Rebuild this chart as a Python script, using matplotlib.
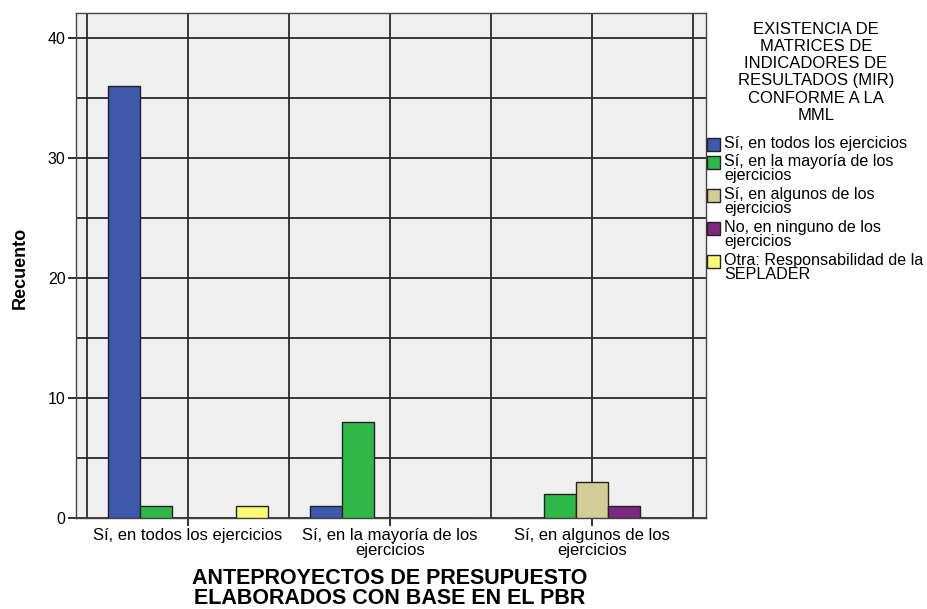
import matplotlib
matplotlib.use("Agg")
import matplotlib.pyplot as plt
from matplotlib.patches import Rectangle
import numpy as np

plt.rcParams['font.family'] = ['Liberation Sans', 'DejaVu Sans']

# categories on the x axis (ANTEPROYECTOS ...)
categories = ['Sí, en todos los ejercicios',
              'Sí, en la mayoría de los\nejercicios',
              'Sí, en algunos de los\nejercicios']

# series (EXISTENCIA DE MIR ...)
series_names = ['Sí, en todos los ejercicios',
                'Sí, en la mayoría de los\nejercicios',
                'Sí, en algunos de los\nejercicios',
                'No, en ninguno de los\nejercicios',
                'Otra: Responsabilidad de la\nSEPLADER']
todos = [36, 1, 0]
mayoria = [1, 8, 2]
algunos = [0, 0, 3]
ninguno = [0, 0, 1]
otra = [1, 0, 0]
values = [todos, mayoria, algunos, ninguno, otra]
colors = ['#3E58AC', '#2EB848', '#D3CE97', '#7C287D', '#FBF873']

fig = plt.figure(figsize=(9.28, 6.09), dpi=100)
ax = fig.add_axes([76/928, 1-518/609, 630/928, 505/609])
ax.set_facecolor('#F0F0F0')

x = np.arange(len(categories))
w = 0.158
for j, vals in enumerate(values):
    ax.bar(x + (j - 2) * w, vals, width=w, color=colors[j],
           edgecolor='#222222', linewidth=1.0, zorder=3)

ax.set_xlim(-0.554, 2.564)
ax.set_ylim(0, 42.1)

ax.set_yticks([0, 10, 20, 30, 40])
ax.set_yticks(np.arange(0, 41, 5), minor=True)
ax.set_xticks(x)
ax.set_xticklabels(categories, fontsize=12, linespacing=1.0)
ax.set_xticks([-0.5, 0.5, 1.5, 2.5], minor=True)
ax.tick_params(axis='both', which='major', length=6, width=1.3, color='#222222',
               pad=1.5)
ax.tick_params(axis='both', which='minor', length=0)
ax.tick_params(axis='y', labelsize=11.5)
ax.grid(True, which='both', color='#2a2a2a', linewidth=1.3, zorder=1)
ax.set_axisbelow(True)
for s in ax.spines.values():
    s.set_color('#444444')
    s.set_linewidth(1.0)

ax.set_ylabel('Recuento', fontsize=13, fontweight='bold', va='center')
ax.yaxis.set_label_coords(-0.088, 0.496)
ax.set_xlabel('ANTEPROYECTOS DE PRESUPUESTO\nELABORADOS CON BASE EN EL PBR',
              fontsize=15.5, fontweight='bold', linespacing=0.92, va='top')
ax.xaxis.set_label_coords(0.498, -0.1)

# legend drawn at the right, SPSS style
fig.text(816/928, 1-22/609,
         'EXISTENCIA DE\nMATRICES DE\nINDICADORES DE\nRESULTADOS (MIR)\nCONFORME A LA\nMML',
         ha='center', va='top', fontsize=12, linespacing=1.18)
entry_tops = [136, 154, 187, 220, 253]
for name, col, top in zip(series_names, colors, entry_tops):
    fig.patches.append(Rectangle((707/928, 1-(top+15)/609), 13/928, 13/609,
                                 transform=fig.transFigure, facecolor=col,
                                 edgecolor='#222222', linewidth=1.0))
    fig.text(724/928, 1-top/609, name, ha='left', va='top', fontsize=11.6,
             linespacing=0.92)

fig.savefig('out.png', dpi=100)
